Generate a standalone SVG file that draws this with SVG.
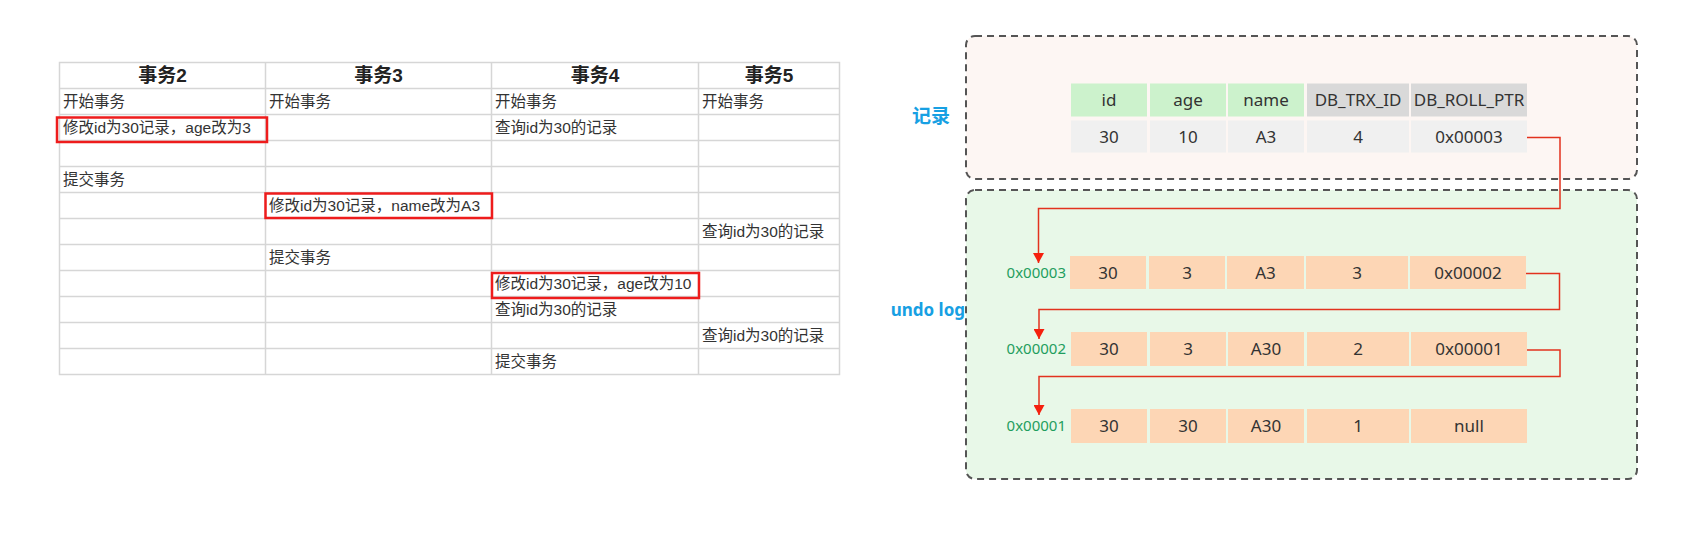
<svg xmlns="http://www.w3.org/2000/svg" width="1687" height="538" viewBox="0 0 1687 538">
<defs>
<style>
.grid{stroke:#d6d6d6;stroke-width:1.5;fill:none}
.hd{font-family:"Liberation Sans","Noto Sans CJK SC",sans-serif;font-size:19px;font-weight:bold;fill:#222;text-anchor:middle}
.td{font-family:"Liberation Sans","Noto Sans CJK SC",sans-serif;font-size:15.5px;fill:#333}
.hl{fill:none;stroke:#ee1c1c;stroke-width:2.5}
.box{stroke:#555;stroke-width:2;stroke-dasharray:7 5}
.c{font-family:"Noto Sans",sans-serif;font-size:17px;fill:#333;text-anchor:middle}
.addr{font-family:"Noto Sans",sans-serif;font-size:15px;fill:#1f9e5e;text-anchor:end}
.lbl{font-family:"Noto Sans","Noto Sans CJK SC",sans-serif;font-weight:bold;fill:#17a0e3;text-anchor:end}
.gh{fill:#ccf2cc}.gy{fill:#d9d9d9}.gd{fill:#f0f0f0}.pc{fill:#fdd6b5}
.conn{fill:none;stroke:#e2321e;stroke-width:1.5}
</style>
<marker id="arr" markerUnits="userSpaceOnUse" markerWidth="11" markerHeight="11" viewBox="0 0 10 11" refX="10" refY="5.5" orient="auto">
<path d="M0,0 L10,5.5 L0,11 z" fill="#f5200e"/>
</marker>
</defs>
<rect width="1687" height="538" fill="#fff"/>

<g id="table">
<g class="grid">
<rect x="59.5" y="62.5" width="780" height="312"/>
<path d="M265.5,62.5V374.5M491.5,62.5V374.5M698.5,62.5V374.5"/>
<path d="M59.5,88.5H839.5M59.5,114.5H839.5M59.5,140.5H839.5M59.5,166.5H839.5M59.5,192.5H839.5M59.5,218.5H839.5M59.5,244.5H839.5M59.5,270.5H839.5M59.5,296.5H839.5M59.5,322.5H839.5M59.5,348.5H839.5"/>
</g>
<text class="hd" x="162.5" y="82">事务2</text>
<text class="hd" x="378.5" y="82">事务3</text>
<text class="hd" x="595" y="82">事务4</text>
<text class="hd" x="769" y="82">事务5</text>
<text class="td" x="63" y="107">开始事务</text>
<text class="td" x="269" y="107">开始事务</text>
<text class="td" x="495" y="107">开始事务</text>
<text class="td" x="702" y="107">开始事务</text>
<text class="td" x="63" y="133">修改id为30记录，age改为3</text>
<text class="td" x="495" y="133">查询id为30的记录</text>
<text class="td" x="63" y="185">提交事务</text>
<text class="td" x="269" y="211">修改id为30记录，name改为A3</text>
<text class="td" x="702" y="237">查询id为30的记录</text>
<text class="td" x="269" y="263">提交事务</text>
<text class="td" x="495" y="289">修改id为30记录，age改为10</text>
<text class="td" x="495" y="315">查询id为30的记录</text>
<text class="td" x="702" y="341">查询id为30的记录</text>
<text class="td" x="495" y="367">提交事务</text>
<rect class="hl" x="57" y="117.5" width="210" height="24.5"/>
<rect class="hl" x="265.5" y="193.5" width="226.5" height="24.5"/>
<rect class="hl" x="492" y="273" width="207" height="25"/>
</g>

<g id="record">
<rect class="box" x="966" y="36" width="671" height="143" rx="9" fill="#fdf6f3"/>
<text class="lbl" x="950" y="123" font-size="19">记录</text>
<rect class="gh" x="1071" y="83.5" width="76" height="33"/>
<rect class="gh" x="1150" y="83.5" width="76" height="33"/>
<rect class="gh" x="1228" y="83.5" width="76" height="33"/>
<rect class="gy" x="1307" y="83.5" width="102" height="33"/>
<rect class="gy" x="1411" y="83.5" width="116" height="33"/>
<rect class="gd" x="1071" y="120.5" width="76" height="32"/>
<rect class="gd" x="1150" y="120.5" width="76" height="32"/>
<rect class="gd" x="1228" y="120.5" width="76" height="32"/>
<rect class="gd" x="1307" y="120.5" width="102" height="32"/>
<rect class="gd" x="1411" y="120.5" width="116" height="32"/>
<text class="c" x="1109" y="106">id</text>
<text class="c" x="1188" y="106">age</text>
<text class="c" x="1266" y="106">name</text>
<text class="c" x="1358" y="106">DB_TRX_ID</text>
<text class="c" x="1469" y="106">DB_ROLL_PTR</text>
<text class="c" x="1109" y="143">30</text>
<text class="c" x="1188" y="143">10</text>
<text class="c" x="1266" y="143">A3</text>
<text class="c" x="1358" y="143">4</text>
<text class="c" x="1469" y="143">0x00003</text>
</g>

<g id="undolog">
<rect class="box" x="966" y="190" width="671" height="289" rx="9" fill="#e8f8e8"/>
<text class="lbl" x="965" y="316" font-size="17">undo log</text>
</g>

<g id="undo1">
<text class="addr" x="1066" y="278">0x00003</text>
<rect class="pc" x="1070" y="256" width="76" height="33"/>
<rect class="pc" x="1149" y="256" width="76" height="33"/>
<rect class="pc" x="1227" y="256" width="77" height="33"/>
<rect class="pc" x="1306" y="256" width="102" height="33"/>
<rect class="pc" x="1410" y="256" width="116" height="33"/>
<text class="c" x="1108" y="278.5">30</text>
<text class="c" x="1187" y="278.5">3</text>
<text class="c" x="1265.5" y="278.5">A3</text>
<text class="c" x="1357" y="278.5">3</text>
<text class="c" x="1468" y="278.5">0x00002</text>
</g>

<g id="undo2">
<text class="addr" x="1066" y="354">0x00002</text>
<rect class="pc" x="1071" y="332" width="76" height="34"/>
<rect class="pc" x="1150" y="332" width="76" height="34"/>
<rect class="pc" x="1228" y="332" width="76" height="34"/>
<rect class="pc" x="1307" y="332" width="102" height="34"/>
<rect class="pc" x="1411" y="332" width="116" height="34"/>
<text class="c" x="1109" y="355">30</text>
<text class="c" x="1188" y="355">3</text>
<text class="c" x="1266" y="355">A30</text>
<text class="c" x="1358" y="355">2</text>
<text class="c" x="1469" y="355">0x00001</text>
</g>

<g id="undo3">
<text class="addr" x="1066" y="431">0x00001</text>
<rect class="pc" x="1071" y="409" width="76" height="34"/>
<rect class="pc" x="1150" y="409" width="76" height="34"/>
<rect class="pc" x="1228" y="409" width="76" height="34"/>
<rect class="pc" x="1307" y="409" width="102" height="34"/>
<rect class="pc" x="1411" y="409" width="116" height="34"/>
<text class="c" x="1109" y="432">30</text>
<text class="c" x="1188" y="432">30</text>
<text class="c" x="1266" y="432">A30</text>
<text class="c" x="1358" y="432">1</text>
<text class="c" x="1469" y="432">null</text>
</g>

<g id="connectors">
<path class="conn" d="M1527,137.5H1560V208.5H1038.5V263" marker-end="url(#arr)"/>
<path class="conn" d="M1526,273.5H1559.5V309.5H1039V339" marker-end="url(#arr)"/>
<path class="conn" d="M1527,350H1560V376.5H1039V415" marker-end="url(#arr)"/>
</g>
</svg>
